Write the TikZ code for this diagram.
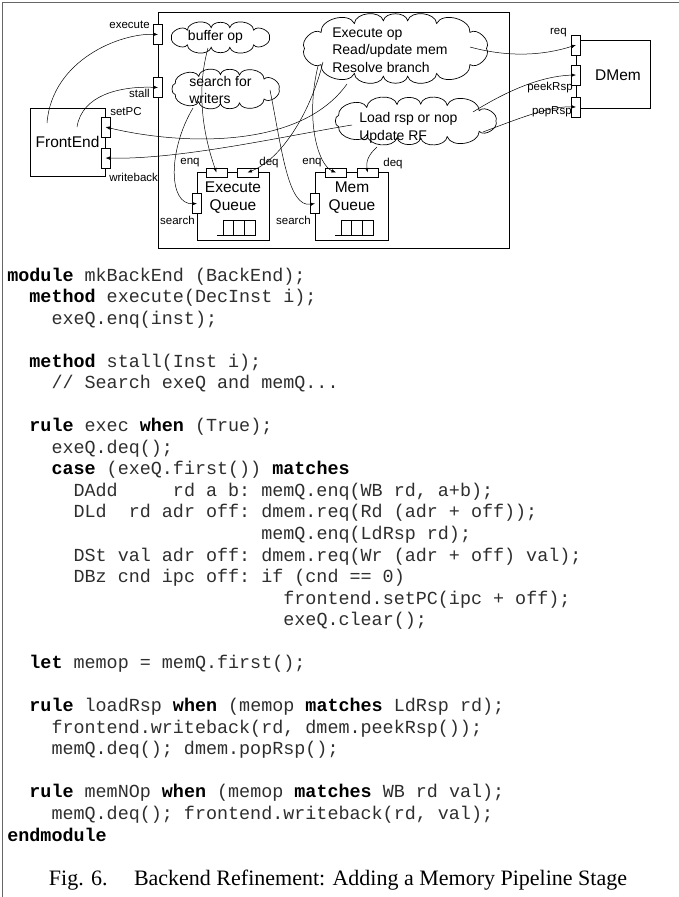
\documentclass[tikz,border=0pt]{standalone}
\usepackage{fontspec}
\setmainfont{Liberation Serif}
\setsansfont{Liberation Sans}
\setmonofont{Liberation Mono}
\usetikzlibrary{arrows.meta,calc}
\newcommand{\codefont}{\fontsize{18.4}{21.54}\selectfont\ttfamily\frenchspacing}
\newcommand{\kw}[1]{\textcolor{black}{\textbf{#1}}}
% puffy cloud outline: centre x, centre y, semi-axis a, semi-axis b, number of puffs
\newcommand{\puffy}[5]{%
  \draw ($(#1,#2)+(#3,0)$)
    \foreach \i in {1,...,#5}{
      to[out=80,in=100,relative] ($(#1,#2)+({#3*cos(360*\i/#5+12*sin(720*\i/#5))},{#4*sin(360*\i/#5+12*sin(720*\i/#5))})$)
    };}
\begin{document}
\begin{tikzpicture}[x=1pt,y=-1pt, line width=0.7pt,
  box/.style={draw, inner sep=0, anchor=north west},
  vport/.style={draw, fill=white, minimum width=9pt, minimum height=20pt, inner sep=0},
  hport/.style={draw, fill=white, minimum width=21pt, minimum height=9pt, inner sep=0},
  lbl/.style={font=\sffamily\fontsize{11.5}{13}\selectfont, inner sep=0},
  big/.style={font=\sffamily\fontsize{15.5}{18}\selectfont, inner sep=0, align=center},
  ctext/.style={font=\sffamily\fontsize{14}{17.5}\selectfont, inner sep=0, align=left},
  conn/.style={-{Latex[length=4.5pt,width=3.5pt]}, line width=0.5pt},
  code/.style={anchor=base west, inner sep=0, font=\codefont, text=black!82}
]
\useasboundingbox (0,0) rectangle (679,897);
% frame
\draw[black!60, line width=1.5pt] (2.5,897) -- (2.5,2.5) -- (679,2.5);

% boxes
\node[box, minimum width=351pt, minimum height=236pt] (be) at (158,12) {};
\node[box, minimum width=75pt, minimum height=68pt] (fe) at (30,108) {};
\node[big] (tfe) at (67.5,142) {FrontEnd};
\node[box, minimum width=72pt, minimum height=68pt] (exq) at (197,172) {};
\node[big] (texq) at (233,198) {Execute\\Queue};
\node[box, minimum width=73pt, minimum height=68pt] (mq) at (315,172) {};
\node[big] (tmq) at (352,198) {Mem\\Queue};
\node[box, minimum width=74pt, minimum height=68pt] (dm) at (576,40) {};
\node[big] (tdm) at (618,75) {DMem};

% fifo icons
\draw (217,235) -- (255,235) -- (255,220) -- (223,220) -- (223,235);
\draw (233.7,220) -- (233.7,235) (244.3,220) -- (244.3,235);
\draw (335,235) -- (373,235) -- (373,220) -- (341,220) -- (341,235);
\draw (351.7,220) -- (351.7,235) (362.3,220) -- (362.3,235);

% ports
\node[vport] (pExec) at (158,34.5) {};
\node[vport] (pStall) at (158,87.5) {};
\node[vport] (pSet) at (105.5,127) {};
\node[vport] (pWb) at (105.5,158) {};
\node[hport] (pEnqE) at (216.5,172.5) {};
\node[hport] (pDeqE) at (247.5,172.5) {};
\node[vport] (pSrchE) at (197,203.5) {};
\node[hport] (pEnqM) at (336,172.5) {};
\node[hport] (pDeqM) at (367.5,172.5) {};
\node[vport] (pSrchM) at (315,203.5) {};
\node[vport] (pReq) at (576,45) {};
\node[vport] (pPeek) at (576,75) {};
\node[vport] (pPop) at (576,107) {};

% port labels
\node[lbl, anchor=east] (lExec) at (150,25) {execute};
\node[lbl, anchor=east] (lStall) at (150,93) {stall};
\node[lbl, anchor=west] (lSet) at (110,112) {setPC};
\node[lbl, anchor=west] (lWb) at (109,177) {writeback};
\node[lbl] (lEnqE) at (190,163) {enq};
\node[lbl] (lDeqE) at (269,163) {deq};
\node[lbl, anchor=east] (lSrchE) at (195,220) {search};
\node[lbl] (lEnqM) at (312,163) {enq};
\node[lbl] (lDeqM) at (393,164) {deq};
\node[lbl, anchor=east] (lSrchM) at (311,220) {search};
\node[lbl, anchor=east] (lReq) at (567,33) {req};
\node[lbl, anchor=east] (lPeek) at (573,88) {peekRsp};
\node[lbl, anchor=east] (lPop) at (572,112) {popRsp};

% clouds
\puffy{220.5}{37.5}{49}{10}{10}
\node[ctext] (tBuf) at (215.5,37) {buffer op};
\puffy{225}{89}{54}{14.5}{11}
\node[ctext, anchor=west] (tSrch) at (189,90) {search for\\writers};
\puffy{395.5}{48.5}{91}{28}{14}
\node[ctext, anchor=west] (tExe) at (332,50) {Execute op\\Read/update mem\\Resolve branch};
\puffy{415}{121}{81}{17}{13}
\node[ctext, anchor=west] (tLd) at (359,128) {Load rsp or nop\\Update RF};

% connector start points
\coordinate (s1) at (47,123);
\coordinate (s2) at (77,127);
\coordinate (s3) at (208,48);
\coordinate (s4) at (193,108);
\coordinate (s5) at (270,90);
\coordinate (s6) at (323,62);
\coordinate (s7) at (318,66);
\coordinate (s8) at (347,84);
\coordinate (s9) at (470,47);
\coordinate (s10) at (352,125);
\coordinate (s11) at (377,147);
\coordinate (s12) at (473,112);
\coordinate (s13) at (483,132);

% connectors
\draw[conn] (s1) .. controls (52,60) and (120,33) .. (pExec.center);
\draw[conn] (s2) .. controls (82,95) and (120,86) .. (pStall.center);
\draw[conn] (s3) .. controls (195,95) and (205,140) .. (pEnqE.center);
\draw[conn] (s4) .. controls (168,150) and (168,205) .. (pSrchE.center);
\draw[conn] (s5) .. controls (282,150) and (288,208) .. (pSrchM.center);
\draw[conn] (s6) .. controls (310,115) and (280,160) .. (pDeqE.center);
\draw[conn] (s7) .. controls (305,120) and (318,165) .. (pEnqM.center);
\draw[conn] (s8) .. controls (300,150) and (180,145) .. (pSet.center);
\draw[conn] (s9) .. controls (510,58) and (545,55) .. (pReq.center);
\draw[conn] (s10) .. controls (290,135) and (180,160) .. (pWb.center);
\draw[conn] (s11) .. controls (368,155) and (366,162) .. (pDeqM.center);
\draw[conn] (s12) .. controls (505,92) and (540,76) .. (pPeek.center);
\draw[conn] (s13) .. controls (520,118) and (550,106) .. (pPop.center);

% code
\node[code] (c0) at (7,281) {\kw{module} mkBackEnd (BackEnd);};
\node[code] (c1) at (7,302.54) {~~\kw{method} execute(DecInst i);};
\node[code] (c2) at (7,324.08) {~~~~exeQ.enq(inst);};
\node[code] (c4) at (7,367.16) {~~\kw{method} stall(Inst i);};
\node[code] (c5) at (7,388.7) {~~~~// Search exeQ and memQ...};
\node[code] (c7) at (7,431.78) {~~\kw{rule} exec \kw{when} (True);};
\node[code] (c8) at (7,453.32) {~~~~exeQ.deq();};
\node[code] (c9) at (7,474.86) {~~~~\kw{case} (exeQ.first()) \kw{matches}};
\node[code] (c10) at (7,496.4) {~~~~~~DAdd~~~~~rd~a~b:~memQ.enq(WB~rd,~a+b);};
\node[code] (c11) at (7,517.94) {~~~~~~DLd~~rd~adr~off:~dmem.req(Rd~(adr~+~off));};
\node[code] (c12) at (7,539.48) {~~~~~~~~~~~~~~~~~~~~~~~memQ.enq(LdRsp~rd);};
\node[code] (c13) at (7,561.02) {~~~~~~DSt~val~adr~off:~dmem.req(Wr~(adr~+~off)~val);};
\node[code] (c14) at (7,582.56) {~~~~~~DBz~cnd~ipc~off:~if~(cnd~==~0)};
\node[code] (c15) at (7,604.1) {~~~~~~~~~~~~~~~~~~~~~~~~~frontend.setPC(ipc~+~off);};
\node[code] (c16) at (7,625.64) {~~~~~~~~~~~~~~~~~~~~~~~~~exeQ.clear();};
\node[code] (c18) at (7,668.72) {~~\kw{let} memop = memQ.first();};
\node[code] (c20) at (7,711.8) {~~\kw{rule} loadRsp \kw{when} (memop \kw{matches} LdRsp rd);};
\node[code] (c21) at (7,733.34) {~~~~frontend.writeback(rd, dmem.peekRsp());};
\node[code] (c22) at (7,754.88) {~~~~memQ.deq(); dmem.popRsp();};
\node[code] (c24) at (7,797.96) {~~\kw{rule} memNOp \kw{when} (memop \kw{matches} WB rd val);};
\node[code] (c25) at (7,819.5) {~~~~memQ.deq(); frontend.writeback(rd, val);};
\node[code] (c26) at (7,841.04) {\kw{endmodule}};

% caption
\node[font=\fontsize{22}{26}\selectfont, inner sep=0] (cap) at (338,880) {Fig. 6.\hspace{1.2em}Backend Refinement: Adding a Memory Pipeline Stage};
\end{tikzpicture}
\end{document}
